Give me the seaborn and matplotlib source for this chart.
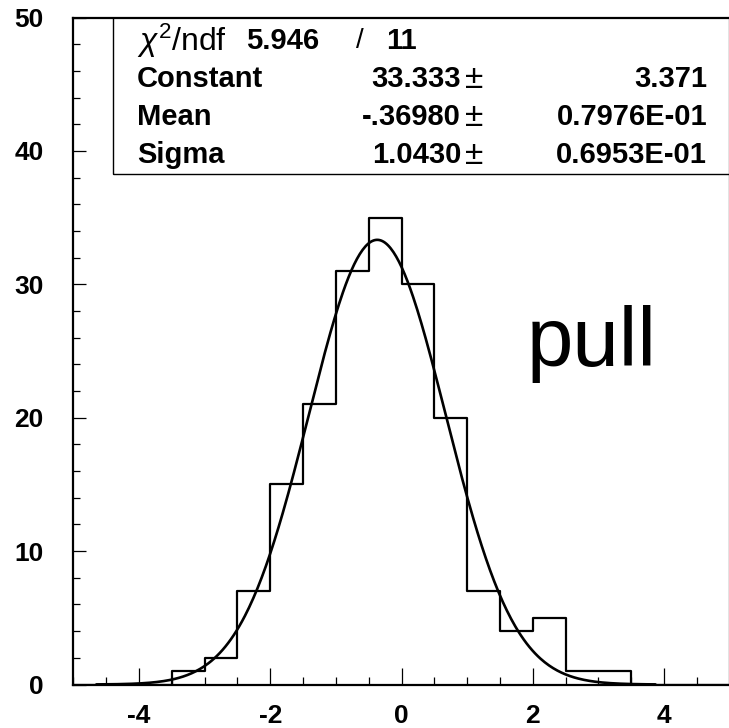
import numpy as np
import pandas as pd
import matplotlib
matplotlib.use("Agg")
import matplotlib.pyplot as plt
from matplotlib.patches import Rectangle
from matplotlib.ticker import MultipleLocator
import seaborn as sns

# ---- data ----
bin_edges = [-5.0, -4.5, -4.0, -3.5, -3.0, -2.5, -2.0, -1.5, -1.0, -0.5, 0.0,
             0.5, 1.0, 1.5, 2.0, 2.5, 3.0, 3.5, 4.0, 4.5, 5.0]
bin_counts = [0, 0, 0, 1, 2, 7, 15, 21, 31, 35, 30, 20, 7, 4, 5, 1, 1, 0, 0, 0]

# Gaussian fit parameters (from the stats box)
fit_constant = 33.333
fit_mean = -0.36980
fit_sigma = 1.0430
fit_range = [-4.65, 3.87]

stat_labels = ["Constant", "Mean", "Sigma"]
stat_values = ["33.333", "-.36980", "1.0430"]
stat_errors = ["3.371", "0.7976E-01", "0.6953E-01"]
chi2_text = "5.946"
ndf_text = "11"
x_ticks = [-4, -2, 0, 2, 4]
y_ticks = [0, 10, 20, 30, 40, 50]

sns.set_style("ticks")
plt.rcParams["font.family"] = ["Liberation Sans", "DejaVu Sans"]
plt.rcParams["mathtext.fontset"] = "custom"
plt.rcParams["mathtext.it"] = "Liberation Sans:italic"
plt.rcParams["mathtext.rm"] = "Liberation Sans"
plt.rcParams["text.color"] = "black"
plt.rcParams["xtick.color"] = "black"
plt.rcParams["ytick.color"] = "black"
plt.rcParams["axes.edgecolor"] = "black"

W, H = 729, 728
fig = plt.figure(figsize=(W / 100, H / 100), dpi=100)
left_px, right_px, top_px, bot_px = 73.4, 729.6, 17.5, 684.5
ax = fig.add_axes([left_px / W, 1 - bot_px / H, (right_px - left_px) / W, (bot_px - top_px) / H])

centers = [(bin_edges[i] + bin_edges[i + 1]) / 2 for i in range(len(bin_counts))]
df = pd.DataFrame({"x": centers, "w": bin_counts})
sns.histplot(data=df, x="x", weights="w", bins=bin_edges, element="step",
             fill=False, color="black", linewidth=1.6, ax=ax)

xs = np.linspace(fit_range[0], fit_range[1], 400)
ys = fit_constant * np.exp(-0.5 * ((xs - fit_mean) / fit_sigma) ** 2)
sns.lineplot(x=xs, y=ys, color="black", linewidth=1.9, ax=ax)

ax.set_xlim(-5, 5)
ax.set_ylim(0, 50)
ax.set_xlabel("")
ax.set_ylabel("")
ax.set_xticks(x_ticks)
ax.set_yticks(y_ticks)
ax.set_xticklabels([str(t) for t in x_ticks], fontsize=19, fontweight="bold", color="black")
ax.set_yticklabels([str(t) for t in y_ticks], fontsize=19, fontweight="bold", color="black")
ax.xaxis.set_minor_locator(MultipleLocator(0.5))
ax.yaxis.set_minor_locator(MultipleLocator(2))
ax.tick_params(axis="x", which="major", direction="in", length=12, width=0.9, pad=14, colors="black")
ax.tick_params(axis="x", which="minor", direction="in", length=6, width=0.9, colors="black")
ax.tick_params(axis="y", which="major", direction="in", length=9.5, width=0.9, pad=21.5, colors="black")
ax.tick_params(axis="y", which="minor", direction="in", length=5, width=0.9, colors="black")
for s in ax.spines.values():
    s.set_linewidth(1.6)
    s.set_color("black")

# stats box
bx0 = (113 - left_px) / (right_px - left_px)
by0 = (bot_px - 174) / (bot_px - top_px)
ax.add_patch(Rectangle((bx0, by0), 1.2, 0.5, transform=ax.transAxes, fill=False,
                       edgecolor="black", linewidth=1.0, clip_on=True))

def ft(xp, yp, s, **kw):
    fig.text(xp / W, 1 - yp / H, s, va="center", color="black", **kw)

rows_y = [41, 79, 117, 155]
ft(137, rows_y[0], "$\\chi^{2}$/ndf", fontsize=23)
ft(246, rows_y[0], chi2_text, fontsize=21, fontweight="bold")
ft(360, rows_y[0], "/", fontsize=20, ha="center")
ft(386, rows_y[0], ndf_text, fontsize=21, fontweight="bold")
for i, (lab, val, err) in enumerate(zip(stat_labels, stat_values, stat_errors)):
    y = rows_y[i + 1]
    ft(137, y, lab, fontsize=21, fontweight="bold")
    ft(461, y, val, fontsize=21, fontweight="bold", ha="right")
    ft(474, y, "\u00b1", fontsize=24, ha="center")
    ft(707, y, err, fontsize=21, fontweight="bold", ha="right")

fig.text(527 / W, 1 - 366 / H, "pull", fontsize=60, va="baseline", ha="left", color="black")

fig.savefig("out.png", dpi=100)
